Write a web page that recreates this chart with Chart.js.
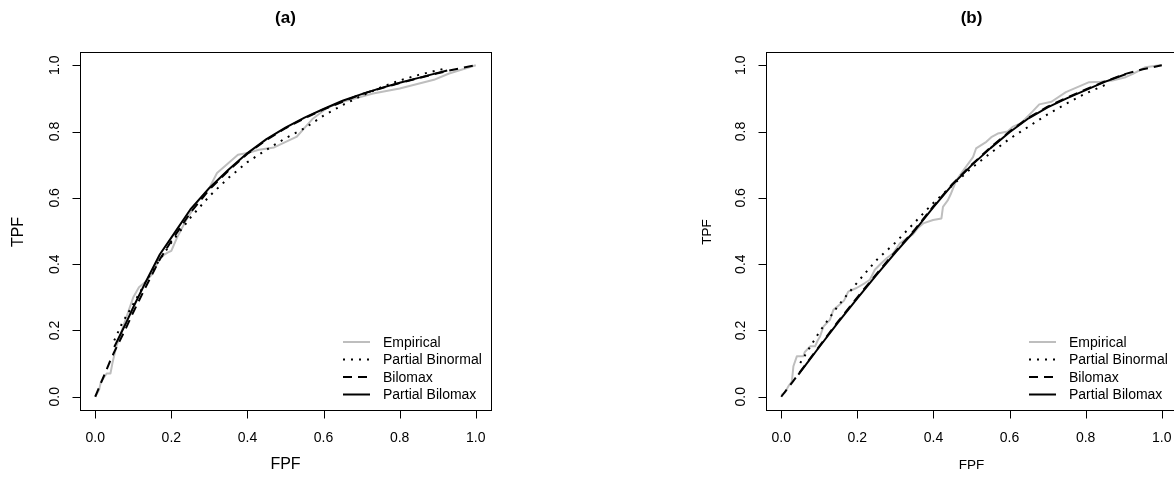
<!DOCTYPE html>
<html>
<head>
<meta charset="utf-8">
<script src="https://cdn.jsdelivr.net/npm/chart.js@4.4.1/dist/chart.umd.min.js"></script>
<style>
  html, body { margin: 0; padding: 0; background: #fff; overflow: hidden; }
  body { width: 1174px; height: 480px; position: relative; }
  canvas { position: absolute; top: 0; }
</style>
</head>
<body>
<canvas id="rocA" width="587" height="480" style="left:0"></canvas>
<canvas id="rocB" width="600" height="480" style="left:587px"></canvas>

<script>
/* =========================================================
   DATA
========================================================= */
const seriesNames = ["Empirical", "Partial Binormal", "Bilomax", "Partial Bilomax"];
const xTicks = [0, 0.2, 0.4, 0.6, 0.8, 1.0];
const yTicks = [0, 0.2, 0.4, 0.6, 0.8, 1.0];
const tickLabels = ["0.0", "0.2", "0.4", "0.6", "0.8", "1.0"];

// panel (a)
const empA_fpf = [0, 0.01, 0.015, 0.03, 0.04, 0.045, 0.055, 0.07, 0.085, 0.1, 0.115, 0.13, 0.15, 0.17, 0.19, 0.2, 0.215, 0.24, 0.27, 0.3, 0.32, 0.345, 0.375, 0.4, 0.43, 0.47, 0.53, 0.57, 0.61, 0.65, 0.73, 0.8, 0.89, 0.93, 1];
const empA_tpf = [0, 0.02, 0.045, 0.07, 0.07, 0.1, 0.15, 0.2, 0.25, 0.3, 0.33, 0.345, 0.37, 0.42, 0.435, 0.44, 0.48, 0.535, 0.59, 0.63, 0.675, 0.7, 0.73, 0.735, 0.745, 0.752, 0.785, 0.837, 0.872, 0.89, 0.915, 0.93, 0.956, 0.975, 1];
const pbnA_fpf = [0.05, 0.07, 0.1, 0.15, 0.2, 0.25, 0.3, 0.35, 0.4, 0.45, 0.5, 0.55, 0.6, 0.65, 0.7, 0.75, 0.8, 0.85, 0.9, 0.92];
const pbnA_tpf = [0.17, 0.22, 0.28, 0.38, 0.465, 0.54, 0.605, 0.66, 0.708, 0.745, 0.78, 0.81, 0.848, 0.88, 0.908, 0.933, 0.954, 0.971, 0.985, 0.99];
const bilA_fpf = [0, 0.02, 0.04, 0.05, 0.08, 0.1, 0.13, 0.17, 0.2, 0.25, 0.3, 0.35, 0.4, 0.45, 0.5, 0.55, 0.6, 0.65, 0.7, 0.75, 0.8, 0.85, 0.9, 0.95, 1];
const bilA_tpf = [0, 0.055, 0.11, 0.135, 0.205, 0.255, 0.325, 0.415, 0.47, 0.555, 0.625, 0.682, 0.733, 0.775, 0.81, 0.84, 0.867, 0.89, 0.913, 0.93, 0.946, 0.961, 0.976, 0.989, 1];
const pblA_fpf = [0.05, 0.08, 0.1, 0.13, 0.17, 0.2, 0.25, 0.3, 0.35, 0.4, 0.45, 0.5, 0.55, 0.6, 0.65, 0.7, 0.75, 0.8, 0.85, 0.9, 0.925];
const pblA_tpf = [0.15, 0.22, 0.27, 0.34, 0.43, 0.48, 0.565, 0.63, 0.685, 0.735, 0.777, 0.812, 0.842, 0.868, 0.893, 0.913, 0.931, 0.947, 0.962, 0.977, 0.984];

// panel (b)
const empB_fpf = [0, 0.01, 0.019, 0.028, 0.032, 0.041, 0.058, 0.062, 0.076, 0.089, 0.095, 0.102, 0.111, 0.128, 0.137, 0.154, 0.165, 0.176, 0.198, 0.22, 0.233, 0.246, 0.259, 0.277, 0.294, 0.312, 0.33, 0.346, 0.36, 0.373, 0.399, 0.421, 0.425, 0.438, 0.445, 0.46, 0.482, 0.504, 0.512, 0.539, 0.552, 0.569, 0.595, 0.608, 0.63, 0.66, 0.678, 0.71, 0.748, 0.78, 0.809, 0.84, 0.87, 0.905, 0.924, 0.957, 0.995, 1];
const empB_tpf = [0.005, 0.013, 0.032, 0.046, 0.092, 0.122, 0.122, 0.135, 0.152, 0.152, 0.168, 0.182, 0.212, 0.232, 0.262, 0.278, 0.29, 0.317, 0.328, 0.343, 0.353, 0.383, 0.398, 0.418, 0.433, 0.463, 0.478, 0.49, 0.51, 0.523, 0.533, 0.538, 0.573, 0.593, 0.61, 0.653, 0.688, 0.723, 0.749, 0.769, 0.783, 0.794, 0.8, 0.814, 0.825, 0.86, 0.882, 0.89, 0.919, 0.935, 0.949, 0.95, 0.954, 0.964, 0.974, 0.994, 1, 1];
const pbnB_fpf = [0.05, 0.1, 0.15, 0.2, 0.25, 0.3, 0.35, 0.4, 0.45, 0.5, 0.55, 0.6, 0.65, 0.7, 0.75, 0.8, 0.86];
const pbnB_tpf = [0.102, 0.195, 0.275, 0.345, 0.412, 0.465, 0.525, 0.585, 0.638, 0.69, 0.735, 0.778, 0.815, 0.852, 0.885, 0.915, 0.945];
const bilB_fpf = [0, 0.03, 0.045, 0.1, 0.15, 0.2, 0.25, 0.3, 0.35, 0.4, 0.45, 0.5, 0.55, 0.6, 0.65, 0.7, 0.75, 0.8, 0.85, 0.905, 0.95, 1];
const bilB_tpf = [0, 0.045, 0.068, 0.152, 0.228, 0.3, 0.37, 0.438, 0.503, 0.575, 0.642, 0.7, 0.752, 0.8, 0.842, 0.875, 0.902, 0.927, 0.951, 0.974, 0.988, 1];
const pblB_fpf = [0.045, 0.1, 0.15, 0.2, 0.25, 0.3, 0.35, 0.4, 0.45, 0.5, 0.55, 0.6, 0.65, 0.7, 0.75, 0.8, 0.85, 0.905];
const pblB_tpf = [0.067, 0.15, 0.225, 0.297, 0.367, 0.435, 0.5, 0.572, 0.64, 0.698, 0.75, 0.798, 0.84, 0.873, 0.9, 0.925, 0.95, 0.973];

/* =========================================================
   HELPERS
========================================================= */
const FONT = "'Liberation Sans', Arial, Helvetica, sans-serif";
Chart.defaults.font.family = FONT;

const pts = (xs, ys) => xs.map((v, i) => ({ x: v, y: ys[i] }));

// line looks per series, in seriesNames order
const looks = [
  { color: "#bebebe", width: 2, dash: [],     order: 3 },
  { color: "#000",    width: 2, dash: [2, 6], order: 2 },
  { color: "#000",    width: 2, dash: [9, 6], order: 1 },
  { color: "#000",    width: 2, dash: [],     order: 0 }
];

function makeSets(lists) {
  return lists.map((l, i) => ({
    label: seriesNames[i],
    data: pts(l[0], l[1]),
    showLine: true,
    pointRadius: 0,
    borderColor: looks[i].color,
    borderWidth: looks[i].width,
    borderDash: looks[i].dash,
    borderCapStyle: "butt",
    borderJoinStyle: "round",
    tension: 0,
    fill: false,
    order: looks[i].order
  }));
}

/* =========================================================
   R-STYLE FRAME: box, axes, labels, legend
========================================================= */
const rFrame = {
  id: "rFrame",
  afterDraw(chart, args, o) {
    const { ctx, chartArea: a, scales: { x, y } } = chart;
    const L = Math.round(a.left) + 0.5, T = Math.round(a.top) + 0.5;
    const R = Math.round(a.right) + 0.5, B = Math.round(a.bottom) + 0.5;

    ctx.save();
    ctx.strokeStyle = "#000";
    ctx.lineWidth = 1;
    ctx.setLineDash([]);
    ctx.strokeRect(L, T, R - L, B - T);

    // axes with ticks outside
    ctx.beginPath();
    ctx.moveTo(x.getPixelForValue(xTicks[0]), B);
    ctx.lineTo(x.getPixelForValue(xTicks[xTicks.length - 1]), B);
    xTicks.forEach(v => {
      const p = Math.round(x.getPixelForValue(v)) + 0.5;
      ctx.moveTo(p, B); ctx.lineTo(p, B + 8);
    });
    ctx.moveTo(L, y.getPixelForValue(yTicks[0]));
    ctx.lineTo(L, y.getPixelForValue(yTicks[yTicks.length - 1]));
    yTicks.forEach(v => {
      const p = Math.round(y.getPixelForValue(v)) + 0.5;
      ctx.moveTo(L, p); ctx.lineTo(L - 8, p);
    });
    ctx.stroke();

    ctx.fillStyle = "#000";
    ctx.textAlign = "center";
    ctx.textBaseline = "middle";
    ctx.font = "14px " + FONT;
    xTicks.forEach((v, i) => ctx.fillText(tickLabels[i], x.getPixelForValue(v), a.bottom + 28));
    yTicks.forEach((v, i) => {
      ctx.save();
      ctx.translate(a.left - 25, y.getPixelForValue(v));
      ctx.rotate(-Math.PI / 2);
      ctx.fillText(tickLabels[i], 0, 0);
      ctx.restore();
    });

    // axis titles
    ctx.font = o.labSize + "px " + FONT;
    ctx.fillText("FPF", (a.left + a.right) / 2, o.xlabY);
    ctx.save();
    ctx.translate(a.left - o.ylabOff, 232);
    ctx.rotate(-Math.PI / 2);
    ctx.fillText("TPF", 0, 0);
    ctx.restore();

    // main title
    ctx.font = "bold 17px " + FONT;
    ctx.fillText(o.title, (a.left + a.right) / 2, 18);

    // legend, bottom right
    ctx.textAlign = "left";
    ctx.font = "14px " + FONT;
    const rows = [342, 359.5, 377, 394.5];
    seriesNames.forEach((name, i) => {
      const lk = looks[i];
      ctx.beginPath();
      ctx.strokeStyle = lk.color;
      ctx.lineWidth = lk.width;
      ctx.setLineDash(lk.dash);
      ctx.moveTo(a.right - 148, rows[i]);
      ctx.lineTo(a.right - 121, rows[i]);
      ctx.stroke();
      ctx.fillText(name, a.right - 108, rows[i] + 1);
    });
    ctx.restore();
  }
};

/* =========================================================
   CHARTS
========================================================= */
function rocChart(id, lists, pad, frame) {
  return new Chart(document.getElementById(id), {
    type: "scatter",
    data: { datasets: makeSets(lists) },
    options: {
      responsive: false,
      animation: false,
      devicePixelRatio: 1,
      events: [],
      layout: { padding: pad },
      scales: {
        x: { type: "linear", min: -0.04, max: 1.04, display: false },
        y: { type: "linear", min: -0.04, max: 1.04, display: false }
      },
      plugins: {
        legend: { display: false },
        tooltip: { enabled: false },
        rFrame: frame
      }
    },
    plugins: [rFrame]
  });
}

rocChart("rocA",
  [[empA_fpf, empA_tpf], [pbnA_fpf, pbnA_tpf], [bilA_fpf, bilA_tpf], [pblA_fpf, pblA_tpf]],
  { left: 80, right: 96, top: 52, bottom: 70 },
  { title: "(a)", labSize: 16, xlabY: 465, ylabOff: 61 });

rocChart("rocB",
  [[empB_fpf, empB_tpf], [pbnB_fpf, pbnB_tpf], [bilB_fpf, bilB_tpf], [pblB_fpf, pblB_tpf]],
  { left: 179, right: 10, top: 52, bottom: 70 },
  { title: "(b)", labSize: 13.5, xlabY: 465, ylabOff: 59 });
</script>
</body>
</html>
